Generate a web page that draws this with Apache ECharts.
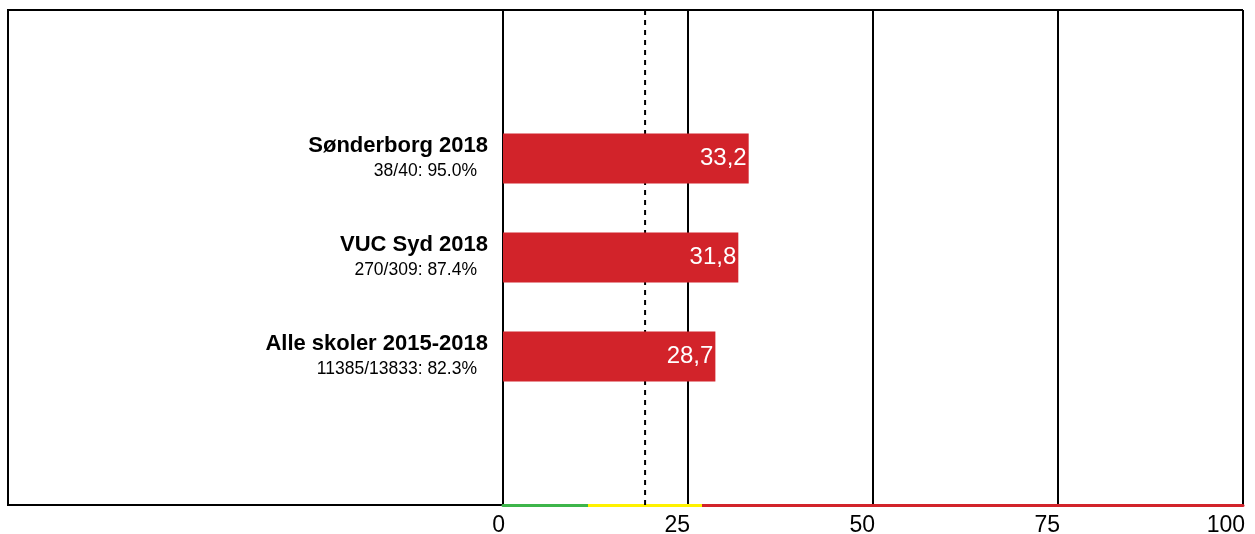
<!DOCTYPE html>
<html>
<head>
<meta charset="utf-8">
<script src="https://cdn.jsdelivr.net/npm/echarts@6/dist/echarts.min.js"></script>
<style>
  html, body { margin: 0; padding: 0; background: #fff; }
</style>
</head>
<body>
<div id="main" style="width: 1255px; height: 534px"></div>
<script>
// data
var names = ["Sønderborg 2018", "VUC Syd 2018", "Alle skoler 2015-2018"];
var subs = ["38/40: 95.0%", "270/309: 87.4%", "11385/13833: 82.3%"];
var values = [33.2, 31.8, 28.7];
var meanValue = 19.2;
var zoneLimits = [11.8, 27]; // green up to first, yellow up to second, red to the end
var zoneColors = ["#3db54a", "#fff200", "#d2232a"];
var xMax = 100;

// empty category above and below the bars
var cats = [""].concat(names).concat([""]);
var barData = [null].concat(values).concat([null]);

var stops = [];
var prev = 0;
zoneLimits.concat([xMax]).forEach(function (lim, i) {
  stops.push({ offset: prev / xMax, color: zoneColors[i] });
  stops.push({ offset: lim / xMax, color: zoneColors[i] });
  prev = lim;
});

var myChart = echarts.init(document.getElementById("main"));
var option = {
  animation: false,
  textStyle: { fontFamily: "Liberation Sans, Arial, sans-serif" },
  grid: { left: 503, right: 12, top: 10, bottom: 29, outerBoundsMode: "none", containLabel: false },
  graphic: [
    {
      type: "polyline",
      shape: { points: [[503, 505], [8, 505], [8, 10], [1243, 10]] },
      style: { stroke: "#000", lineWidth: 2, fill: null },
    },
  ],
  xAxis: {
    type: "value",
    min: 0,
    max: xMax,
    interval: 25,
    axisLine: {
      show: true,
      onZero: false,
      lineStyle: {
        width: 3,
        color: new echarts.graphic.LinearGradient(0, 0, 1, 0, stops),
      },
    },
    axisTick: { show: false },
    axisLabel: {
      color: "#000",
      fontSize: 23,
      align: "right",
      margin: 9,
      padding: [0, -2, 0, 0],
    },
    splitLine: { show: true, lineStyle: { color: "#000", width: 2 } },
  },
  yAxis: [
    {
      type: "category",
      inverse: true,
      data: cats,
      axisLine: { show: true, lineStyle: { color: "#000", width: 2 } },
      axisTick: { show: false },
      axisLabel: {
        margin: 15,
        align: "right",
        formatter: function (v, i) {
          if (!v) return "";
          return "{a|" + v + "}\n{b|" + subs[i - 1] + "}";
        },
        rich: {
          a: { fontSize: 22, fontWeight: "bold", color: "#000", lineHeight: 25, align: "right" },
          b: { fontSize: 17.5, color: "#000", lineHeight: 25, align: "right", padding: [0, 11, 0, 0] },
        },
      },
    },
    // helper axis for the full-height mean line
    { type: "value", min: 0, max: 1, show: false },
  ],
  series: [
    {
      type: "line",
      yAxisIndex: 1,
      z: 1,
      silent: true,
      symbol: "none",
      lineStyle: { color: "#000", type: [5, 5], width: 2 },
      data: [[meanValue, 0], [meanValue, 1]],
    },
    {
      type: "bar",
      z: 3,
      data: barData,
      barWidth: 50,
      itemStyle: { color: "#d2232a" },
      label: {
        show: true,
        position: "insideRight",
        distance: 2,
        color: "#fff",
        fontSize: 24,
        formatter: function (p) {
          return p.value.toFixed(1).replace(".", ",");
        },
      },
    },
  ],
};
myChart.setOption(option);
</script>
</body>
</html>
